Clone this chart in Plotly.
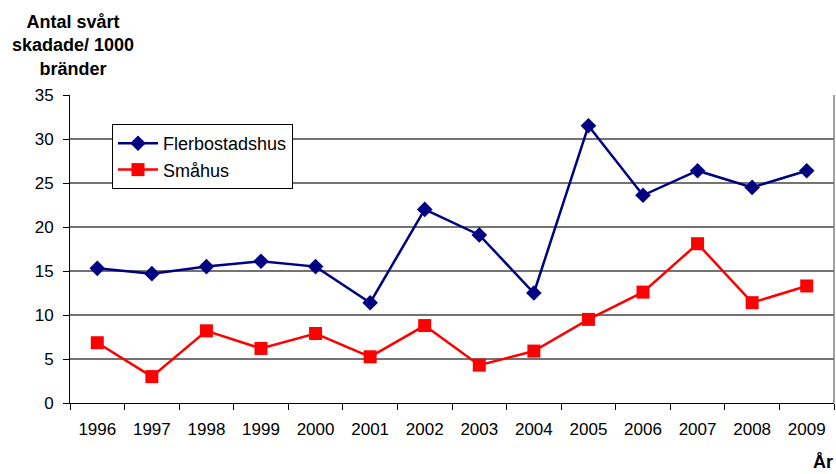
import plotly.graph_objects as go

years = ["1996", "1997", "1998", "1999", "2000", "2001", "2002",
         "2003", "2004", "2005", "2006", "2007", "2008", "2009"]
flerbostadshus = [15.3, 14.7, 15.5, 16.1, 15.5, 11.4, 22.0,
                  19.1, 12.5, 31.5, 23.6, 26.4, 24.5, 26.4]
smahus = [6.85, 3.0, 8.2, 6.2, 7.9, 5.25, 8.8,
          4.3, 5.9, 9.5, 12.6, 18.1, 11.4, 13.3]
y_ticks = [0, 5, 10, 15, 20, 25, 30, 35]

FONT = "Liberation Sans, Arial, sans-serif"

fig = go.Figure()
fig.add_trace(go.Scatter(
    x=years, y=flerbostadshus, name="Flerbostadshus", mode="lines+markers",
    line=dict(color="#000080", width=2.5),
    marker=dict(symbol="diamond", size=12, color="#000080"),
    legendgroup="a"))
fig.add_trace(go.Scatter(
    x=years, y=smahus, name="Småhus", mode="lines+markers",
    line=dict(color="#FF0000", width=2.5),
    marker=dict(symbol="square", size=13, color="#FF0000"),
    legendgroup="b"))

L, R, T, B = 70, 2, 95, 71
W, H = 836, 474
pw, ph = W - L - R, H - T - B

def px(x):
    return (x - L) / pw

def py(y):
    return (H - B - y) / ph

fig.update_layout(
    width=W, height=H,
    margin=dict(l=L, r=R, t=T, b=B, pad=0),
    paper_bgcolor="white", plot_bgcolor="white",
    font=dict(family=FONT, size=17, color="black"),
    showlegend=True,
    legend=dict(x=px(112), y=py(124), xanchor="left", yanchor="top",
                bordercolor="black", borderwidth=1, bgcolor="white",
                font=dict(size=18, family=FONT),
                tracegroupgap=0, traceorder="grouped",
                itemwidth=40),
    xaxis=dict(type="category", showline=True, linecolor="black", linewidth=1,
               ticks="outside", tickson="boundaries", ticklen=6,
               tickcolor="black", showgrid=False,
               tickfont=dict(size=17, family=FONT),
               ticklabelstandoff=11, range=[-0.5, 13.5]),
    yaxis=dict(range=[0, 35], tickvals=y_ticks, showline=True,
               linecolor="black", linewidth=1, ticks="outside", ticklen=6,
               tickcolor="black", showgrid=True, gridcolor="#737373",
               gridwidth=1.5, zeroline=False,
               tickfont=dict(size=17, family=FONT), ticklabelstandoff=6),
    shapes=[dict(type="line", xref="paper", yref="paper", x0=1, x1=1,
                 y0=0, y1=1, line=dict(color="#808080", width=1.5))],
    annotations=[
        dict(text="<b>Antal svårt<br>skadade/ 1000<br>bränder</b>",
             xref="paper", yref="paper", x=px(73), y=py(46),
             xanchor="center", yanchor="middle", showarrow=False,
             font=dict(size=18, family=FONT)),
        dict(text="<b>År</b>", xref="paper", yref="paper",
             x=px(823), y=py(462), xanchor="center", yanchor="middle",
             showarrow=False, font=dict(size=18, family=FONT)),
    ],
)

fig.write_html("out.html", config={"displayModeBar": False},
               post_script="document.body.style.margin='0';"
                           "document.body.style.padding='0';")
